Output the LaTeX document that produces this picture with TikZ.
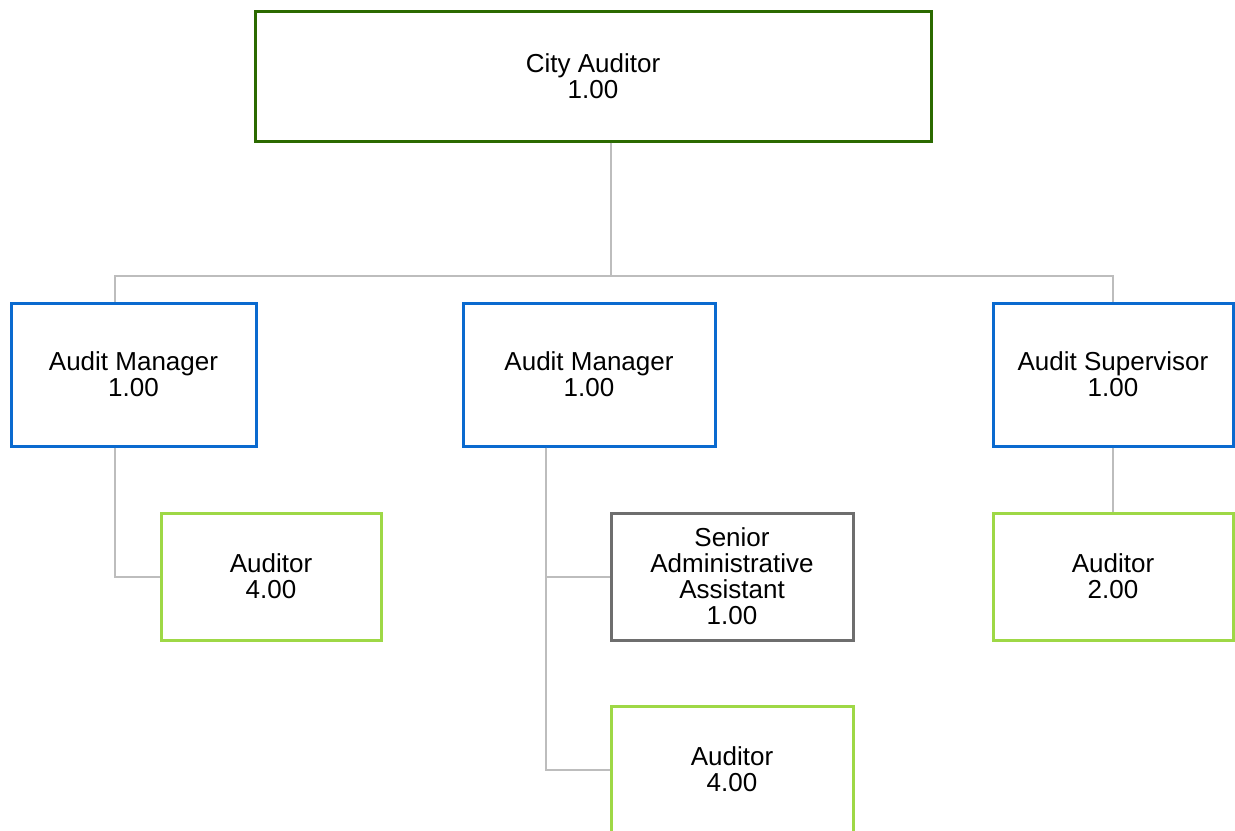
\documentclass[tikz,border=0pt]{standalone}
\usepackage{fontspec}
\setmainfont{Liberation Sans}
\usetikzlibrary{positioning}
\definecolor{headgreen}{HTML}{2B6A00}
\definecolor{mgrblue}{HTML}{0A6ACF}
\definecolor{staffgreen}{HTML}{9ED846}
\definecolor{admingray}{HTML}{6E6E6E}
\definecolor{linkgray}{HTML}{BDBDBD}

\begin{document}
\begin{tikzpicture}[x=0.5pt, y=-0.5pt,
      every node/.style={rectangle, align=center, inner sep=0pt, line width=1.5pt,
        font=\fontsize{13}{13}\selectfont},
      head/.style={draw=headgreen, minimum width=338pt, minimum height=65pt},
      manager/.style={draw=mgrblue, minimum height=71.5pt},
      staff/.style={draw=staffgreen, minimum height=63.5pt},
      admin/.style={draw=admingray, minimum height=63.5pt},
      link/.style={draw=linkgray, line width=1pt}]

   \useasboundingbox (0,0) rectangle (1235,830);

   \node[head] (city) at (593,76) {City Auditor\\1.00};

   \node[manager, minimum width=122.5pt] (mgrA) at (133.5,374.5) {Audit Manager\\1.00};
   \node[manager, minimum width=126pt] (mgrB) at (589,374.5) {Audit Manager\\1.00};
   \node[manager, minimum width=120pt] (supv) at (1113,374.5) {Audit Supervisor\\1.00};

   \node[staff, minimum width=110pt] (audA) at (271,576.5) {Auditor\\4.00};
   \node[admin, minimum width=121pt] (senior) at (732,576.5) {Senior\\Administrative\\Assistant\\1.00};
   \node[staff, minimum width=121pt] (audB) at (732,769.5) {Auditor\\4.00};
   \node[staff, minimum width=120pt] (audC) at (1113,576.5) {Auditor\\2.00};

   % connectors
   \coordinate (bus)  at (611,276);
   \coordinate (busL) at (115,276);
   \coordinate (busR) at (1113,276);
   \coordinate (trunkB) at (546,446);

   \draw[link] (city.south -| bus) -- (bus);
   \draw[link] (mgrA.north -| busL) -- (busL) -- (busR) -- (supv.north);
   \draw[link] (mgrA.south -| busL) |- (audA.west);
   \draw[link] (mgrB.south -| trunkB) |- (senior.west);
   \draw[link] (mgrB.south -| trunkB) |- (audB.west);
   \draw[link] (supv.south) -- (audC.north);
\end{tikzpicture}
\end{document}
